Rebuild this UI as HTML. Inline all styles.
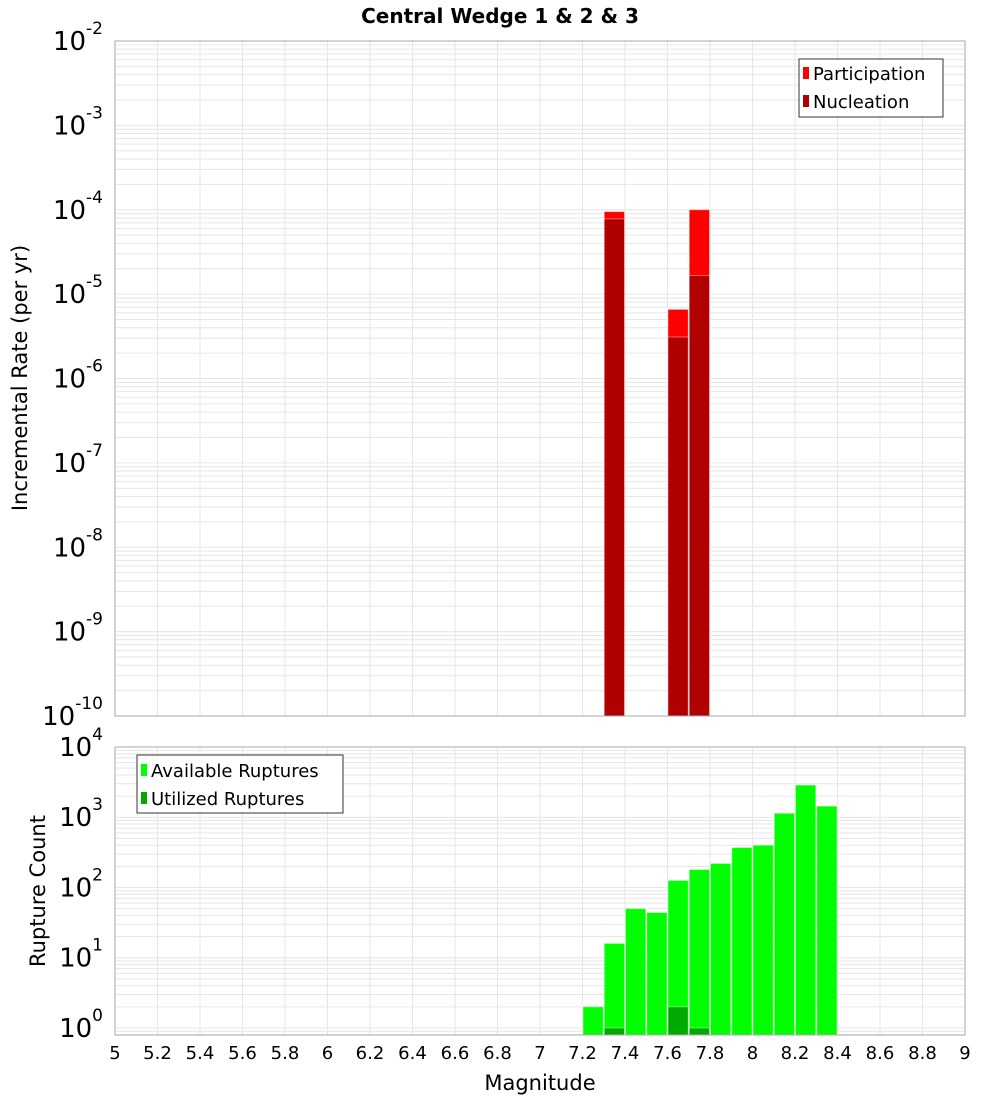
<!DOCTYPE html>
<html><head><meta charset="utf-8"><style>
body{margin:0;background:#fff;}
svg text{font-family:"DejaVu Sans","Liberation Sans",sans-serif;}
</style></head><body>
<svg id="c" width="1000" height="1100" xmlns="http://www.w3.org/2000/svg">
<text x="500" y="23" text-anchor="middle" font-size="20" font-weight="bold">Central Wedge 1 &amp; 2 &amp; 3</text>
<g id="top"></g><g id="bot"></g>
<text transform="translate(27,378) rotate(-90)" text-anchor="middle" font-size="21">Incremental Rate (per yr)</text>
<text transform="translate(45,891) rotate(-90)" text-anchor="middle" font-size="21">Rupture Count</text>
<text x="540" y="1090" text-anchor="middle" font-size="21">Magnitude</text>
<g>
<rect x="799" y="59" width="144" height="58" fill="#fff" stroke="#333"/>
<rect x="803" y="67" width="6" height="12" fill="#ff0000"/>
<text x="813" y="80" font-size="18">Participation</text>
<rect x="803" y="95" width="6" height="12" fill="#b00000"/>
<text x="813" y="108" font-size="18">Nucleation</text>
</g>
<g>
<rect x="137" y="755" width="206" height="58" fill="#fff" stroke="#333"/>
<rect x="141" y="764" width="6" height="12" fill="#00ff00"/>
<text x="151" y="777" font-size="18">Available Ruptures</text>
<rect x="141" y="792" width="6" height="12" fill="#00aa00"/>
<text x="151" y="805" font-size="18">Utilized Ruptures</text>
</g>
</svg>
<script>
const mags=[7.25,7.35,7.45,7.55,7.65,7.75,7.85,7.95,8.05,8.15,8.25,8.35];
const partMags=[7.35,7.65,7.75];
const participation=[9.5e-5,6.6e-6,1.0e-4];
const nucleation=[7.8e-5,3.1e-6,1.66e-5];
const available=[2,16,50,44,126,180,220,370,400,1140,2870,1440];
const utilMags=[7.35,7.65,7.75];
const utilized=[1,2,1];
const xTicks=[5,5.2,5.4,5.6,5.8,6,6.2,6.4,6.6,6.8,7,7.2,7.4,7.6,7.8,8,8.2,8.4,8.6,8.8,9];
const NS="http://www.w3.org/2000/svg";
const X0=115,X1=965,XMIN=5,XMAX=9;
const xs=m=>X0+(m-XMIN)/(XMAX-XMIN)*(X1-X0);
function el(p,t,a){const e=document.createElementNS(NS,t);for(const k in a)e.setAttribute(k,a[k]);p.appendChild(e);return e;}
function panel(g,top,bot,lmin,lmax,name,labelSize){
  const ys=v=>bot-(Math.log10(v)-lmin)/(lmax-lmin)*(bot-top);
  for(let d=Math.floor(lmin);d<=Math.ceil(lmax);d++)for(let k=1;k<10;k++){
    const lv=d+Math.log10(k);if(lv<lmin||lv>lmax)continue;
    const y=ys(Math.pow(10,lv));
    const l=el(g,'line',{x1:X0,x2:X1,y1:y,y2:y,stroke:'#e6e6e6','stroke-width':1});
    
    
    if(k===1){
      const t=el(g,'text',{x:X0-12,y:y+9,'text-anchor':'end','font-size':labelSize});
      
      
      t.textContent='10';
      const s=el(t,'tspan',{dy:-16,'font-size':17});s.textContent=String(d);
    }
  }
  xTicks.forEach(m=>{const x=xs(m);const l=el(g,'line',{x1:x,x2:x,y1:top,y2:bot,stroke:'#e6e6e6'});
    
    });
  return ys;
}
const W=(X1-X0)/(XMAX-XMIN)*0.1;
function bar(g,m,v,ys,bot,fill,nm){
  const y=ys(v);const r=el(g,'rect',{x:xs(m)-W/2+0.5,y:y,width:W-1,height:bot-y,fill:fill,stroke:'#fff','stroke-opacity':0.4});
  
  
}
const gt=document.getElementById('top');
const TT=41,TB=716;
const yt=panel(gt,TT,TB,-10,-2,'top',26);
partMags.forEach((m,i)=>bar(gt,m,participation[i],yt,TB,'#ff0000','participation-bar'));
partMags.forEach((m,i)=>bar(gt,m,nucleation[i],yt,TB,'#b00000','nucleation-bar'));
el(gt,'rect',{x:X0,y:TT,width:X1-X0,height:TB-TT,fill:'none',stroke:'#aaa'});
const gb=document.getElementById('bot');
const BT=747,BB=1035;
const yb=panel(gb,BT,BB,-0.1,4,'bottom',26);
mags.forEach((m,i)=>bar(gb,m,available[i],yb,BB,'#00ff00','available-bar'));
utilMags.forEach((m,i)=>bar(gb,m,utilized[i],yb,BB,'#00aa00','utilized-bar'));
el(gb,'rect',{x:X0,y:BT,width:X1-X0,height:BB-BT,fill:'none',stroke:'#aaa'});
xTicks.forEach(m=>{const t=el(gb,'text',{x:xs(m),y:1059,'text-anchor':'middle','font-size':18});
  
  
  t.textContent=String(m);});
</script>
</body></html>
